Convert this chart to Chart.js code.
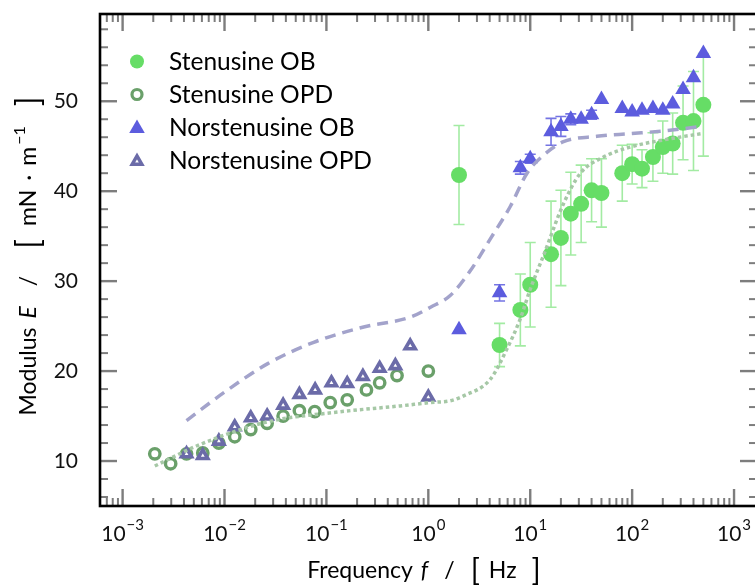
<!DOCTYPE html>
<html>
<head>
<meta charset="utf-8">
<script src="https://cdn.jsdelivr.net/npm/chart.js@4.4.0/dist/chart.umd.min.js"></script>
<style>
  html, body { margin: 0; padding: 0; background: #fff; overflow: hidden; }
  #wrap { width: 760px; height: 588px; }
</style>
</head>
<body>
<div id="wrap"><canvas id="modulus_vs_frequency" width="760" height="588"></canvas></div>
<script>
// Stenusine OB - filled circles with error bars
const stenObFreq = [2, 5, 8, 10, 16, 20, 25, 31.6, 40, 50, 80, 100, 125, 160, 200, 250, 316, 400, 500];
const stenObE    = [41.8, 22.9, 26.8, 29.6, 33.0, 34.8, 37.5, 38.6, 40.1, 39.8, 42.0, 43.0, 42.5, 43.8, 44.9, 45.3, 47.6, 47.8, 49.6];
const stenObErr  = [5.5, 2.4, 4.0, 4.7, 5.9, 5.3, 4.6, 4.3, 3.5, 3.8, 3.1, 2.2, 2.1, 2.7, 2.9, 3.4, 4.1, 5.5, 5.7];

// Stenusine OPD - open circles
const stenOpdFreq = [0.00207, 0.00296, 0.00424, 0.00612, 0.0088, 0.0126, 0.0181, 0.0262, 0.0376, 0.0543, 0.0768, 0.109, 0.160, 0.247, 0.333, 0.493, 1.0];
const stenOpdE    = [10.8, 9.7, 10.8, 10.9, 12.0, 12.7, 13.5, 14.2, 15.0, 15.6, 15.5, 16.5, 16.8, 17.9, 18.7, 19.5, 20.0];

// Norstenusine OB - filled triangles
const norObFreq = [2, 5, 8, 10, 16, 20, 25, 31.6, 40, 50, 80, 100, 125, 160, 200, 250, 316, 400, 500];
const norObE    = [24.6, 28.7, 42.6, 43.6, 46.6, 47.2, 48.0, 48.0, 48.5, 50.2, 49.2, 48.8, 49.0, 49.2, 49.0, 49.7, 51.3, 52.6, 55.3];
const norObErr  = [0, 0.9, 0.7, 0.5, 1.5, 1.1, 0.6, 0, 0.5, 0, 0, 0, 0, 0, 0, 0, 0, 0, 0];

// Norstenusine OPD - hollow-ish triangles
const norOpdFreq = [0.00424, 0.00612, 0.0088, 0.0126, 0.0181, 0.0262, 0.0376, 0.0543, 0.0775, 0.112, 0.160, 0.228, 0.333, 0.475, 0.664, 1.0];
const norOpdE    = [10.8, 10.6, 12.2, 13.8, 14.8, 15.0, 16.2, 17.4, 17.9, 18.7, 18.6, 19.4, 20.3, 20.6, 22.8, 17.1];

// fitted curves
const norFitFreq = [0.00424, 0.00984, 0.0263, 0.075, 0.232, 0.667, 1.05, 1.64, 2.6, 4.06, 6.37, 9.3, 13.5, 21.2, 45, 95, 203, 482];
const norFitE    = [14.5, 17.6, 20.8, 23.2, 24.9, 26.0, 27.1, 28.4, 31.2, 34.7, 38.3, 42.0, 44.0, 45.5, 46.1, 46.4, 46.7, 47.2];
const stenFitFreq = [0.00207, 0.00582, 0.0263, 0.118, 0.531, 1.05, 1.64, 2.22, 4.06, 5.9, 7.98, 10, 13.5, 21.2, 30.9, 52.4, 95.5, 203, 482];
const stenFitE    = [9.45, 11.86, 14.35, 15.4, 16.13, 16.5, 16.7, 17.25, 19.1, 22.45, 25.8, 29.1, 32.85, 38.6, 41.96, 43.8, 44.9, 45.7, 46.4];

// axes
const xMin = 6e-4, xMax = 1.68e3;
const yMin = 5, yMax = 59.7;
const xTickVals = [1e-3, 1e-2, 1e-1, 1, 10, 100, 1000];
const xTickExp = ['\u22123', '\u22122', '\u22121', '0', '1', '2', '3'];
const yTickVals = [10, 20, 30, 40, 50];

const FONT = 'Lato, "DejaVu Sans", sans-serif';

function pts(xs, ys) {
    return xs.map((v, i) => ({x: v, y: ys[i]}));
}

// error bars, drawn under the markers
const errorBars = {
    id: 'errorBars',
    beforeDatasetsDraw(chart) {
        const {ctx, scales: {x, y}} = chart;
        ctx.save();
        chart.data.datasets.forEach(ds => {
            if (!ds.errors) return;
            ctx.strokeStyle = ds.errColor;
            ctx.lineWidth = 1.6;
            ds.data.forEach((p, i) => {
                const e = ds.errors[i];
                if (!e) return;
                const px = x.getPixelForValue(p.x);
                const top = y.getPixelForValue(p.y + e);
                const bot = y.getPixelForValue(p.y - e);
                ctx.beginPath();
                ctx.moveTo(px, top); ctx.lineTo(px, bot);
                ctx.moveTo(px - 5.5, top); ctx.lineTo(px + 5.5, top);
                ctx.moveTo(px - 5.5, bot); ctx.lineTo(px + 5.5, bot);
                ctx.stroke();
            });
        });
        ctx.restore();
    }
};

function line(ctx, x1, y1, x2, y2) {
    ctx.beginPath(); ctx.moveTo(x1, y1); ctx.lineTo(x2, y2); ctx.stroke();
}

// inward ticks on all four sides, frame, and the 10^n tick labels
const frameTicks = {
    id: 'frameTicks',
    afterDraw(chart) {
        const {ctx, chartArea: a, scales: {x, y}} = chart;
        ctx.save();
        ctx.strokeStyle = '#7d7d7d';
        for (let p = -4; p <= 3; p++) {
            for (let m = 1; m <= 9; m++) {
                const v = m * Math.pow(10, p);
                if (v < xMin || v > xMax) continue;
                const px = x.getPixelForValue(v);
                const len = m === 1 ? 17 : 8;
                ctx.lineWidth = m === 1 ? 2.4 : 2;
                line(ctx, px, a.bottom, px, a.bottom - len);
                line(ctx, px, a.top, px, a.top + len);
            }
        }
        for (let v = 6; v < yMax; v += 2) {
            const py = y.getPixelForValue(v);
            const major = v % 10 === 0;
            const len = major ? 17 : 8;
            ctx.lineWidth = major ? 2.4 : 2;
            line(ctx, a.left, py, a.left + len, py);
            line(ctx, a.right, py, a.right - len, py);
        }
        ctx.strokeStyle = '#000';
        ctx.lineWidth = 2.6;
        ctx.strokeRect(a.left, a.top, a.right - a.left, a.bottom - a.top);

        // x tick labels: 10 with a raised exponent
        ctx.fillStyle = '#111';
        ctx.textBaseline = 'alphabetic';
        ctx.textAlign = 'left';
        xTickVals.forEach((v, i) => {
            const px = x.getPixelForValue(v);
            ctx.font = '21px ' + FONT;
            const wb = ctx.measureText('10').width;
            ctx.font = '15px ' + FONT;
            const we = ctx.measureText(xTickExp[i]).width;
            const x0 = px - (wb + we + 1) / 2;
            ctx.font = '21px ' + FONT;
            ctx.fillText('10', x0, a.bottom + 35);
            ctx.font = '15px ' + FONT;
            ctx.fillText(xTickExp[i], x0 + wb + 1, a.bottom + 24);
        });
        ctx.restore();
    }
};

function tri(ctx, x, y, r) {
    ctx.beginPath();
    ctx.moveTo(x, y - r);
    ctx.lineTo(x + r * 0.866, y + r / 2);
    ctx.lineTo(x - r * 0.866, y + r / 2);
    ctx.closePath();
}

// draw a run of text pieces centred on 0,0; each piece may carry a gap before it,
// an italic flag, its own size and a vertical shift
function drawPieces(ctx, pieces, size) {
    let total = 0;
    const fnt = pc => (pc.it ? 'italic ' : '') + (pc.size || size) + 'px ' + FONT;
    pieces.forEach(pc => {
        ctx.font = fnt(pc);
        pc.w = ctx.measureText(pc.t).width;
        total += pc.w + (pc.gap || 0);
    });
    let cx = -total / 2;
    pieces.forEach(pc => {
        cx += pc.gap || 0;
        ctx.font = fnt(pc);
        ctx.fillText(pc.t, cx, pc.dy || 0);
        cx += pc.w;
    });
}

// legend in the top-left corner and axis titles
const legendAndTitles = {
    id: 'legendAndTitles',
    afterDraw(chart) {
        const {ctx, chartArea: a} = chart;
        ctx.save();
        const mx = a.left + 37, tx = a.left + 69;
        let ly = a.top + 47.5;
        ctx.textBaseline = 'middle';
        ctx.textAlign = 'left';
        chart.data.datasets.forEach(ds => {
            if (!ds.legendMark) return;
            const k = ds.legendMark;
            if (k === 'dot') {
                ctx.fillStyle = ds.backgroundColor;
                ctx.beginPath(); ctx.arc(mx, ly, 7, 0, Math.PI * 2); ctx.fill();
            } else if (k === 'ring') {
                ctx.strokeStyle = ds.borderColor; ctx.lineWidth = 3.2;
                ctx.beginPath(); ctx.arc(mx, ly, 5, 0, Math.PI * 2); ctx.stroke();
            } else if (k === 'tri') {
                ctx.fillStyle = ds.backgroundColor;
                tri(ctx, mx, ly + 1, 9); ctx.fill();
            } else {
                ctx.fillStyle = '#fff'; ctx.strokeStyle = ds.borderColor; ctx.lineWidth = 3.4;
                ctx.lineJoin = 'miter';
                tri(ctx, mx, ly + 1, 5.6); ctx.fill(); ctx.stroke();
            }
            ctx.fillStyle = '#000';
            ctx.font = '24.5px ' + FONT;
            ctx.fillText(ds.label, tx, ly + 1);
            ly += 33;
        });

        ctx.fillStyle = '#000';
        ctx.textAlign = 'left';
        ctx.textBaseline = 'middle';
        ctx.save();
        ctx.translate(424, 571);
        drawPieces(ctx, [
            {t: 'Frequency'},
            {t: 'f', it: true, gap: 8},
            {t: '/', gap: 16},
            {t: '[', size: 30, gap: 16},
            {t: 'Hz', gap: 9},
            {t: ']', size: 30, gap: 15}
        ], 23);
        ctx.restore();
        ctx.save();
        ctx.translate(29, 256);
        ctx.rotate(-Math.PI / 2);
        drawPieces(ctx, [
            {t: 'Modulus'},
            {t: 'E', it: true, gap: 9},
            {t: '/', gap: 20},
            {t: '[', size: 32, gap: 27},
            {t: 'mN', gap: 13},
            {t: '\u00B7', gap: 9},
            {t: 'm', gap: 9},
            {t: '\u22121', size: 16, dy: -9, gap: 2},
            {t: ']', size: 32, gap: 20}
        ], 23);
        ctx.restore();
        ctx.restore();
    }
};

new Chart(document.getElementById('modulus_vs_frequency'), {
    type: 'scatter',
    data: {
        datasets: [
            {
                label: 'Stenusine OB',
                data: pts(stenObFreq, stenObE),
                errors: stenObErr,
                errColor: 'rgba(102,221,102,0.6)',
                legendMark: 'dot',
                pointStyle: 'circle',
                pointRadius: 8,
                backgroundColor: '#66dd66',
                borderColor: '#66dd66',
                borderWidth: 0,
                order: 3
            },
            {
                label: 'Stenusine OPD',
                data: pts(stenOpdFreq, stenOpdE),
                legendMark: 'ring',
                pointStyle: 'circle',
                pointRadius: 5.2,
                backgroundColor: 'rgba(255,255,255,0)',
                borderColor: '#6aa06a',
                borderWidth: 3.4,
                order: 4
            },
            {
                label: 'Norstenusine OB',
                data: pts(norObFreq, norObE),
                errors: norObErr,
                errColor: 'rgba(92,92,222,0.85)',
                legendMark: 'tri',
                pointStyle: 'triangle',
                pointRadius: 9,
                backgroundColor: '#5c5cde',
                borderColor: '#5c5cde',
                borderWidth: 0,
                order: 2
            },
            {
                label: 'Norstenusine OPD',
                data: pts(norOpdFreq, norOpdE),
                legendMark: 'tri-open',
                pointStyle: 'triangle',
                pointRadius: 5.8,
                backgroundColor: '#ffffff',
                borderColor: '#6b6ba8',
                borderWidth: 3.6,
                order: 1
            },
            {
                label: 'Norstenusine fit',
                data: pts(norFitFreq, norFitE),
                showLine: true,
                pointRadius: 0,
                borderColor: '#a3a3cb',
                borderWidth: 3.5,
                borderDash: [11, 7],
                cubicInterpolationMode: 'monotone',
                order: 0
            },
            {
                label: 'Stenusine fit',
                data: pts(stenFitFreq, stenFitE),
                showLine: true,
                pointRadius: 0,
                borderColor: '#a6c8a6',
                borderWidth: 3.5,
                borderDash: [3.5, 3],
                cubicInterpolationMode: 'monotone',
                order: 0
            }
        ]
    },
    options: {
        responsive: false,
        devicePixelRatio: 1,
        animation: false,
        layout: {autoPadding: false, padding: {top: 14, right: 3, left: 0, bottom: 0}},
        plugins: {
            legend: {display: false},
            tooltip: {enabled: false}
        },
        scales: {
            x: {
                type: 'logarithmic',
                min: xMin,
                max: xMax,
                grid: {display: false},
                border: {display: false},
                afterBuildTicks: s => { s.ticks = xTickVals.map(v => ({value: v})); },
                afterFit: s => { s.height = 82; s.paddingLeft = 0; s.paddingRight = 0; },
                ticks: {display: false}
            },
            y: {
                min: yMin,
                max: yMax,
                grid: {display: false},
                border: {display: false},
                afterBuildTicks: s => { s.ticks = yTickVals.map(v => ({value: v})); },
                afterFit: s => { s.width = 100; s.paddingTop = 0; s.paddingBottom = 0; },
                ticks: {
                    padding: 14,
                    color: '#111',
                    font: {family: FONT, size: 21}
                }
            }
        }
    },
    plugins: [errorBars, frameTicks, legendAndTitles]
});
</script>
</body>
</html>
